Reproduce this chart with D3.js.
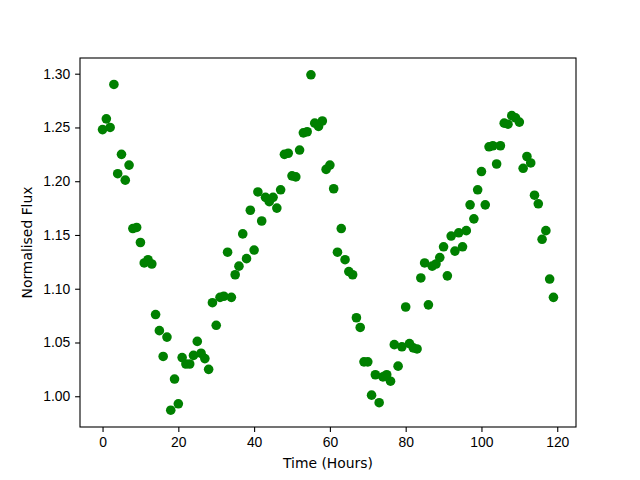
<!DOCTYPE html>
<html>
<head>
<meta charset="utf-8">
<script src="https://cdn.jsdelivr.net/npm/d3@7"></script>
<style>
  body { margin: 0; background: #fff; }
  svg { display: block; font-family: "DejaVu Sans", sans-serif; }
  .tick text { font-size: 13.9px; fill: #000; }
  .domain, .tick line { stroke: #000; stroke-width: 1.1px; }
</style>
</head>
<body>
<svg id="chart"></svg>
<script>
// light curve samples (one per hour)
const timeHours = [
  0, 1, 2, 3, 4, 5, 6, 7, 8, 9, 10, 11, 12, 13, 14, 15, 16, 17, 18, 19,
  20, 21, 22, 23, 24, 25, 26, 27, 28, 29, 30, 31, 32, 33, 34, 35, 36, 37, 38, 39,
  40, 41, 42, 43, 44, 45, 46, 47, 48, 49, 50, 51, 52, 53, 54, 55, 56, 57, 58, 59,
  60, 61, 62, 63, 64, 65, 66, 67, 68, 69, 70, 71, 72, 73, 74, 75, 76, 77, 78, 79,
  80, 81, 82, 83, 84, 85, 86, 87, 88, 89, 90, 91, 92, 93, 94, 95, 96, 97, 98, 99,
  100, 101, 102, 103, 104, 105, 106, 107, 108, 109, 110, 111, 112, 113, 114, 115, 116, 117, 118, 119
];
const flux = [
  1.248, 1.258, 1.250, 1.290, 1.207, 1.225, 1.201, 1.215, 1.156, 1.157, 1.143, 1.124,
  1.127, 1.123, 1.076, 1.061, 1.037, 1.055, 0.987, 1.016, 0.993, 1.036, 1.030, 1.030,
  1.038, 1.051, 1.040, 1.035, 1.025, 1.087, 1.066, 1.092, 1.093, 1.134, 1.092, 1.113,
  1.121, 1.151, 1.128, 1.173, 1.136, 1.190, 1.163, 1.185, 1.181, 1.185, 1.175, 1.192,
  1.225, 1.226, 1.205, 1.204, 1.229, 1.245, 1.246, 1.299, 1.254, 1.251, 1.256, 1.211,
  1.215, 1.193, 1.134, 1.156, 1.127, 1.116, 1.113, 1.073, 1.064, 1.032, 1.032, 1.001,
  1.020, 0.994, 1.018, 1.020, 1.014, 1.048, 1.028, 1.046, 1.083, 1.049, 1.045, 1.044,
  1.110, 1.124, 1.085, 1.121, 1.123, 1.129, 1.139, 1.112, 1.149, 1.135, 1.152, 1.139,
  1.154, 1.178, 1.165, 1.192, 1.209, 1.178, 1.232, 1.233, 1.216, 1.233, 1.254, 1.253,
  1.261, 1.259, 1.255, 1.212, 1.223, 1.217, 1.187, 1.179, 1.146, 1.154, 1.109, 1.092
];
const xTicks = [0, 20, 40, 60, 80, 100, 120];
const yTicks = [1.00, 1.05, 1.10, 1.15, 1.20, 1.25, 1.30];

const width = 640, height = 480;
const margin = { top: 58, right: 64, bottom: 53, left: 80 };

const svg = d3.select('#chart')
  .attr('width', width)
  .attr('height', height);

svg.append('rect').attr('width', width).attr('height', height).attr('fill', '#fff');

const points = timeHours.map((t, i) => ({ t: t, f: flux[i] }));

// matplotlib style 5% padding
function padded(ext) {
  const p = (ext[1] - ext[0]) * 0.05;
  return [ext[0] - p, ext[1] + p];
}

const x = d3.scaleLinear()
  .domain(padded(d3.extent(timeHours)))
  .range([margin.left, width - margin.right]);

const y = d3.scaleLinear()
  .domain(padded(d3.extent(flux)))
  .range([height - margin.bottom, margin.top]);

svg.append('g')
  .selectAll('circle')
  .data(points)
  .enter()
  .append('circle')
  .attr('cx', d => x(d.t))
  .attr('cy', d => y(d.f))
  .attr('r', 4.8)
  .attr('fill', '#008000');

const tickLen = 4.9;

svg.append('g')
  .attr('transform', `translate(0,${height - margin.bottom})`)
  .call(d3.axisBottom(x).tickValues(xTicks).tickSize(tickLen).tickPadding(4.9).tickFormat(d3.format('d')))
  .call(g => g.select('.domain').remove());

svg.append('g')
  .attr('transform', `translate(${margin.left},0)`)
  .call(d3.axisLeft(y).tickValues(yTicks).tickSize(tickLen).tickPadding(4.9).tickFormat(d3.format('.2f')))
  .call(g => g.select('.domain').remove());

// frame
svg.append('rect')
  .attr('x', margin.left)
  .attr('y', margin.top)
  .attr('width', width - margin.left - margin.right)
  .attr('height', height - margin.top - margin.bottom)
  .attr('fill', 'none')
  .attr('stroke', '#000')
  .attr('stroke-width', 1.1);

svg.append('text')
  .attr('x', (margin.left + width - margin.right) / 2)
  .attr('y', 468)
  .attr('text-anchor', 'middle')
  .style('font-size', '13.9px')
  .text('Time (Hours)');

svg.append('text')
  .attr('transform', `translate(32,${(margin.top + height - margin.bottom) / 2}) rotate(-90)`)
  .attr('text-anchor', 'middle')
  .style('font-size', '13.9px')
  .text('Normalised Flux');
</script>
</body>
</html>
